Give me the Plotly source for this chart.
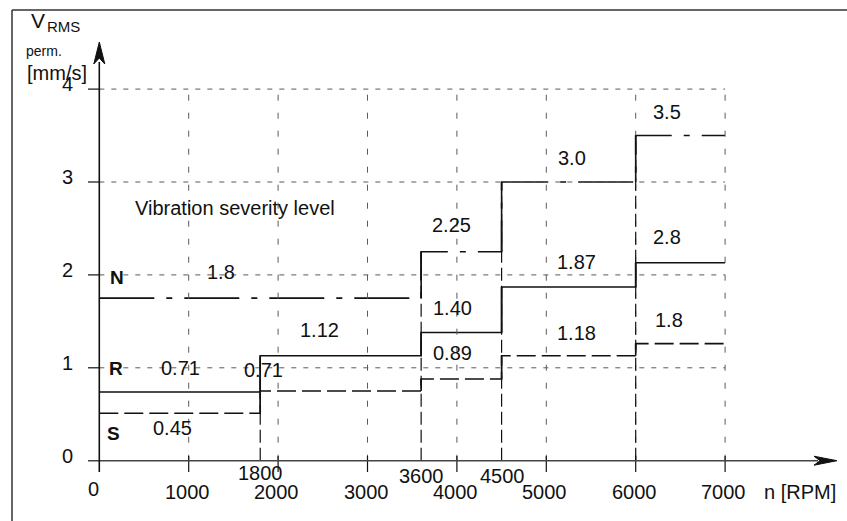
import plotly.graph_objects as go

# ---------------- data ----------------
breaks = [0, 1800, 3600, 4500, 6000, 7000]          # speed breakpoints [RPM]
N_vals = [1.75, 1.75, 2.25, 3.0, 3.5]                # level N (drawn)
R_vals = [0.74, 1.13, 1.38, 1.87, 2.13]              # level R (drawn)
S_vals = [0.51, 0.75, 0.88, 1.13, 1.26]              # level S (drawn)
N_texts = ["1.8", "2.25", "3.0", "3.5"]
R_texts = ["0.71", "1.12", "1.40", "1.87", "2.8"]
S_texts = ["0.45", "0.71", "0.89", "1.18", "1.8"]
x_ticks = [1000, 2000, 3000, 4000, 5000, 6000, 7000]
x_tick_text = ["1000", "2000", "3000", "4000", "5000", "6000", "7000"]
step_ticks = [1800, 3600, 4500]
y_ticks = [0, 1, 2, 3, 4]

# ---------------- pixel mapping helpers ----------------
W, H = 847, 521
X0PX, XS = 99.3, 0.0894     # px of x=0, px per RPM
Y0PX, YS = 460.7, 92.9      # px of y=0, px per mm/s


def px2x(px):
    return (px - X0PX) / XS


def py2y(py):
    return (Y0PX - py) / YS


INK = "#111111"
GRID = "#5a5a5a"
FONT = "Liberation Sans, Arial, sans-serif"

fig = go.Figure()
shapes = []
ann = []


def seg(x0, y0, x1, y1, color=INK, width=1.5, dash="solid"):
    shapes.append(dict(type="line", xref="x", yref="y", x0=x0, y0=y0, x1=x1, y1=y1,
                       line=dict(color=color, width=width, dash=dash), layer="above"))


def txt(s, px, py, size=20, bold=False, xanchor="center"):
    ann.append(dict(text=("<b>%s</b>" % s) if bold else s, x=px2x(px), y=py2y(py),
                    xref="x", yref="y", showarrow=False, xanchor=xanchor, yanchor="middle",
                    font=dict(family=FONT, size=size, color=INK)))


# grid
xmax = breaks[-1]
ymax = y_ticks[-1]
for yv in y_ticks[1:]:
    seg(0, yv, xmax, yv, GRID, 1, "5px,7px")
    seg(px2x(88), yv, 0, yv, INK, 1.2)
for xv in x_ticks:
    seg(xv, 0, xv, ymax, GRID, 1, "6px,12px")
    seg(xv, py2y(456), xv, py2y(472), INK, 1.2)

# vertical long-dash lines at steps (up to the highest level that steps there)
all_series = [N_vals, R_vals, S_vals]
for i in range(1, len(breaks) - 1):
    tops = [v[i] for v in all_series if v[i] != v[i - 1]]
    top = max(tops) if tops else 0
    seg(breaks[i], 0, breaks[i], top, INK, 1.2, "13px,5px")

# series
series = [("N", N_vals, "55px,12px,6px,12px"), ("R", R_vals, "solid"), ("S", S_vals, "19px,6px")]
for name, vals, dash in series:
    fig.add_trace(go.Scatter(x=breaks, y=vals + [vals[-1]], mode="lines", name=name,
                             line=dict(shape="hv", color=INK, width=1.6, dash=dash),
                             hoverinfo="skip", showlegend=False))
    for i in range(1, len(vals)):
        if vals[i] != vals[i - 1]:
            seg(breaks[i], vals[i - 1], breaks[i], vals[i], INK, 1.6)

# axes
seg(px2x(88), 0, px2x(818), 0, "#444444", 1.6)
seg(0, py2y(472), 0, py2y(62), INK, 1.6)
# arrow heads (notched triangles), built in pixel units
tipx, tipy = px2x(837), 0
hx = 4.5 / YS
shapes.append(dict(type="path", xref="x", yref="y",
                   path="M %f,%f L %f,%f L %f,%f L %f,%f Z" % (
                       tipx, tipy, px2x(814), hx, px2x(820), 0, px2x(814), -hx),
                   fillcolor=INK, line=dict(color=INK, width=1)))
ty = py2y(42)
hw = 5.5 / XS
shapes.append(dict(type="path", xref="x", yref="y",
                   path="M %f,%f L %f,%f L %f,%f L %f,%f Z" % (
                       0, ty, hw, py2y(64), 0, py2y(58), -hw, py2y(64)),
                   fillcolor=INK, line=dict(color=INK, width=1)))

# frame
shapes.append(dict(type="line", xref="paper", yref="paper", x0=12 / W, x1=12 / W, y0=0, y1=1 - 10 / H,
                   line=dict(color="#333333", width=1.5)))
shapes.append(dict(type="line", xref="paper", yref="paper", x0=12 / W, x1=1, y0=1 - 10 / H, y1=1 - 10 / H,
                   line=dict(color="#333333", width=1.5)))

# tick labels
txt("0", 93, 489)
for v, s in zip(x_ticks, x_tick_text):
    txt(s, X0PX + v * XS - 1.5, 491.5)
for v, py in zip(step_ticks, [473, 476, 476]):
    txt(str(v), X0PX + v * XS + 0.5, py)
for v in y_ticks:
    txt(str(v), 75, Y0PX - v * YS - 5, xanchor="right")
txt("n [RPM]", 799.5, 491.5)

# y-axis title
txt("V", 37.5, 20.5, size=21)
txt("RMS", 63, 26.5, size=15)
txt("perm.", 44, 51, size=14)
txt("[mm/s]", 56.5, 73, size=20)

# level names and caption
txt("N", 116.7, 277, size=19, bold=True)
txt("R", 116, 368, size=19, bold=True)
txt("S", 113, 433, size=19, bold=True)
txt("Vibration severity level", 235, 208, size=20)

# value texts (pixel centres)
N_pos = [(221, 271.5), (451, 225), (572, 158), (667, 112)]
R_pos = [(180, 368), (319, 330), (452, 308), (576, 262), (667, 237)]
S_pos = [(172, 428), (263, 370), (452, 353), (576, 333), (669, 320)]
for texts, pos in [(N_texts, N_pos), (R_texts, R_pos), (S_texts, S_pos)]:
    for s, (px, py) in zip(texts, pos):
        txt(s, px, py)

fig.update_layout(
    width=W, height=H, autosize=False,
    margin=dict(l=0, r=0, t=0, b=0),
    paper_bgcolor="white", plot_bgcolor="white",
    xaxis=dict(range=[px2x(0), px2x(W)], visible=False, fixedrange=True),
    yaxis=dict(range=[py2y(H), py2y(0)], visible=False, fixedrange=True),
    shapes=shapes, annotations=ann, showlegend=False,
)
fig.write_html("out.html")
